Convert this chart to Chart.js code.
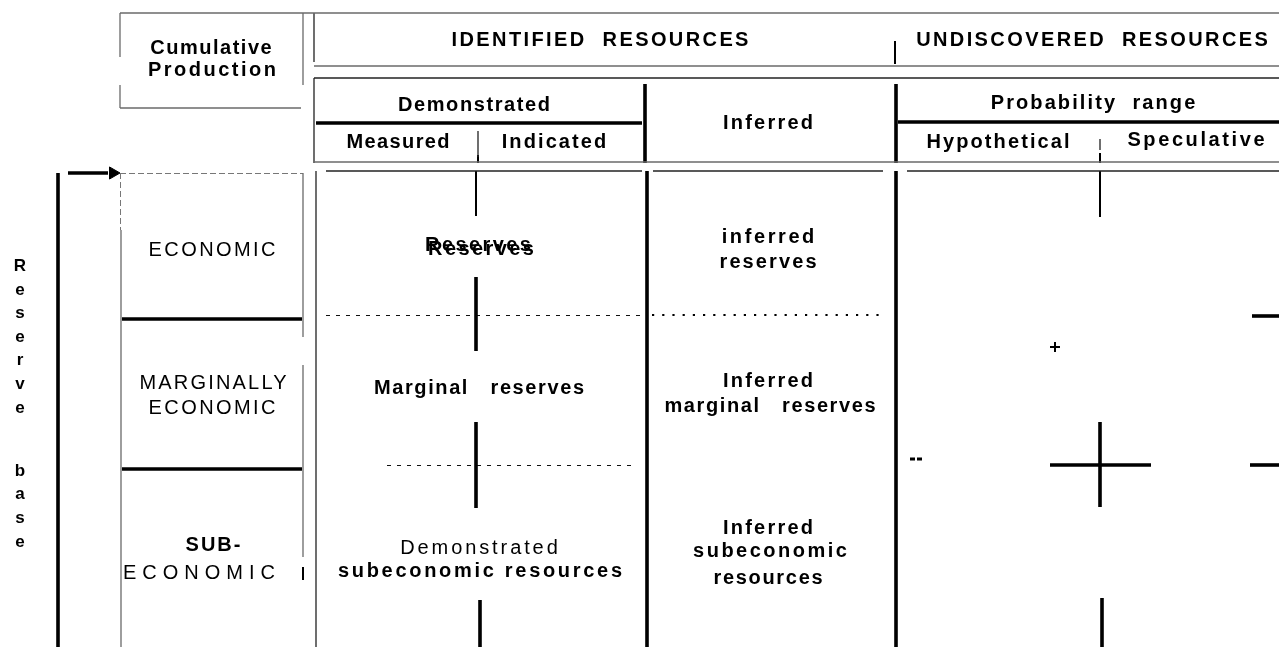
<!DOCTYPE html>
<html><head><meta charset="utf-8">
<script src="https://cdn.jsdelivr.net/npm/chart.js@4.4.1/dist/chart.umd.min.js"></script>
<style>html,body{margin:0;padding:0;background:#fff;overflow:hidden}#wrap{width:1279px;height:647px;position:relative}</style>
</head><body><div id="wrap"><canvas id="c" width="1279" height="647"></canvas></div>
<script>
// ---- Diagram data (diagram units = x 0..1279, y 0..647 from top) ----
// Column boundaries of the classification grid
const columnEdges = [120, 303, 316, 478, 647, 896, 1100, 1279];
// Row boundaries (category rows)
const rowEdges = [173, 319, 469, 647];

// Segments [x1, y1, x2, y2]
const thinGrayLines = [
  [120,13,1279,13],
  [120,13,120,57],[120,85,120,108],[120,108,301,108],
  [303,13,303,85],
  [314,66,1279,66],
  [314,162,1279,162],
  [121,230,121,647],[303,173,303,337],[303,365,303,557]
];
const thinDarkLines = [
  [314,13,314,62],
  [314,78,1279,78],[314,78,314,163],
  [326,171,642,171],[653,171,883,171],[907,171,1279,171],
  [316,171,316,647],
  [478,131,478,157],[1100,139,1100,150]
];
const thickLines = [
  [316,123,642,123],[898,122,1279,122],
  [645,84,645,163],[896,84,896,163],
  [647,171,647,647],[896,171,896,647],
  [58,173,58,647],
  [122,319,302,319],[122,469,302,469],
  [476,277,476,351],[476,422,476,508],[480,600,480,647],
  [1050,465,1151,465],[1100,422,1100,507],[1102,598,1102,647],
  [1252,316,1279,316],[1250,465,1279,465],
  [68,173,108,173]
];
const mediumLines = [
  [895,41,895,64],
  [478,155,478,163],[1100,153,1100,163],
  [476,171,476,216],[1100,171,1100,217],
  [1050,347,1060,347],[1055,342,1055,352],
  [303,567,303,580]
];
const dashedLines = [[326,315.5,640,315.5],[387,465.5,637,465.5]];
const grayDashed = [[120,173.5,303,173.5],[120.5,173,120.5,230]];
const dottedLines = [[652,315,880,315]];
const shortDash = [[910,459,923,459]];
const arrowHead = [{x:113, y:173}];

// Texts
const headerTexts = ["Cumulative","Production","IDENTIFIED  RESOURCES","UNDISCOVERED  RESOURCES",
  "Demonstrated","Inferred","Probability  range","Measured","Indicated","Hypothetical","Speculative"];
const headerPos = [[211,48],[212,70],[600,40],[1092,40],[474,105],[768,123],[1093,103],[398,142],[554,142],[998,142],[1196,140]];
const headerSpacing = [1.5,2.5,2.4,2.4,1.6,2.2,2.1,1.4,2.1,2.1,2.6];
const categoryTexts = ["ECONOMIC","MARGINALLY","ECONOMIC","ECONOMIC"];
const categoryPos = [[212,250],[213,383],[212,408],[199,573]];
const categorySpacing = [2.4,2.2,2.4,6];
const cellTexts = ["Reserves","Reserves","Marginal   reserves","subeconomic resources",
  "inferred","reserves","Inferred","marginal   reserves","Inferred","subeconomic","resources"];
const cellPos = [[478,245],[481,249],[479,388],[480,571],[768,237],[768,262],[768,381],[770,406],[768,528],[770,551],[768,578]];
const cellSpacing = [2.4,2.4,1.6,2.7,2.6,2.1,2.2,1.6,2.2,2.5,1.7];
const sideLetters = ["R","e","s","e","r","v","e","b","a","s","e"];
const sideLetterY = [266,290,313,337,360,384,408,471,494,518,542];

// ---- Build datasets ----
const datasets = [];
function addSegs(segs, color, width, dash) {
  segs.forEach(s => datasets.push({
    data: [{x:s[0], y:s[1]}, {x:s[2], y:s[3]}],
    showLine: true, borderColor: color, borderWidth: width,
    borderDash: dash || [], pointRadius: 0, fill: false, borderCapStyle: 'butt'
  }));
}
addSegs(thinGrayLines, '#6a6a6a', 1.3);
addSegs(thinDarkLines, '#222', 1.3);
addSegs(thickLines, '#000', 3.6);
addSegs(mediumLines, '#000', 2);
addSegs(dashedLines, '#111', 1, [4,6]);
addSegs(grayDashed, '#777', 1, [6,3]);
addSegs(dottedLines, '#000', 2.2, [2.2,8]);
addSegs(shortDash, '#000', 3, [5,2]);
datasets.push({data: arrowHead, pointStyle:'triangle', rotation:90, pointRadius:7,
  backgroundColor:'#000', borderColor:'#000', showLine:false});

const textPlugin = {
  id: 'texts',
  afterDraw(chart) {
    const {ctx, scales:{x, y}} = chart;
    function put(t, px, py, font, ls) {
      ctx.save();
      ctx.font = font;
      ctx.fillStyle = '#000';
      ctx.textAlign = 'center';
      ctx.textBaseline = 'middle';
      ctx.letterSpacing = (ls||0) + 'px';
      ctx.fillText(t, x.getPixelForValue(px) + (ls||0)/2, y.getPixelForValue(py));
      ctx.restore();
    }
    const F = '"Liberation Sans", Arial, sans-serif';
    headerTexts.forEach((t,i) => put(t, headerPos[i][0], headerPos[i][1], 'bold 20px ' + F, headerSpacing[i]));
    categoryTexts.forEach((t,i) => put(t, categoryPos[i][0], categoryPos[i][1], '20px ' + F, categorySpacing[i]));
    put("SUB-", 213, 545, 'bold 20px ' + F, 2);
    cellTexts.forEach((t,i) => put(t, cellPos[i][0], cellPos[i][1], 'bold 20px ' + F, cellSpacing[i]));
    put("Demonstrated", 479, 548, '20px ' + F, 2.9);
    sideLetters.forEach((t,i) => put(t, 20, sideLetterY[i], 'bold 17px ' + F, 0));
  }
};

new Chart(document.getElementById('c'), {
  type: 'scatter',
  data: { datasets },
  options: {
    responsive: false, animation: false, events: [],
    layout: { padding: 0, autoPadding: false },
    plugins: { legend: {display:false}, tooltip: {enabled:false} },
    scales: {
      x: { type:'linear', min:0, max:1279, display:false },
      y: { type:'linear', min:0, max:647, reverse:true, display:false }
    }
  },
  plugins: [textPlugin]
});
</script></body></html>
